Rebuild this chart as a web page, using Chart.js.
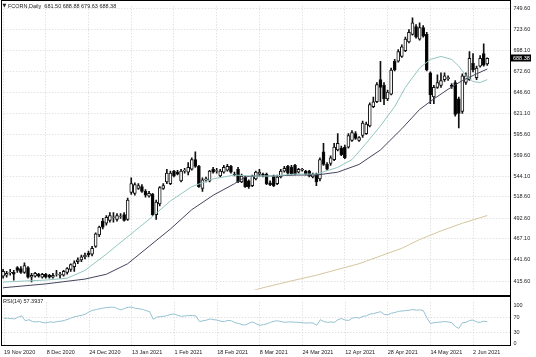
<!DOCTYPE html>
<html><head><meta charset="utf-8">
<script src="https://cdn.jsdelivr.net/npm/chart.js@4.4.1/dist/chart.umd.min.js"></script>
<style>
html,body{margin:0;padding:0;background:#fff;width:536px;height:357px;overflow:hidden;}
#w1{position:absolute;left:0;top:0;width:536px;height:296px;}
#w2{position:absolute;left:0;top:296px;width:536px;height:61px;}
canvas{display:block}
</style></head><body>
<div id="w1"><canvas id="c1" width="536" height="296"></canvas></div>
<div id="w2"><canvas id="c2" width="536" height="61"></canvas></div>
<script>
// ---- data ----
const symbolTitle = 'FCORN,Daily';
const lastQuote = ['681.50', '688.88', '679.63', '688.38'];
const dateLabels = ['19 Nov 2020','8 Dec 2020','24 Dec 2020','13 Jan 2021','1 Feb 2021','18 Feb 2021','8 Mar 2021','24 Mar 2021','12 Apr 2021','28 Apr 2021','14 May 2021','2 Jun 2021'];
const labelStep = 12;
const priceTicks = [749.60,723.60,698.10,672.60,646.60,621.10,595.60,569.60,544.10,518.60,492.60,467.10,441.60,415.60];
const rsiTicks = [100,70,30,0];

const opens = [421.5,422.7,425.6,426.2,432.1,430.9,426.2,432.1,420.3,421.5,423.9,420.3,423.9,
422.7,420.3,423.9,422.7,422.7,426.2,429.8,433.3,439.2,441.6,445.1,449.8,448.6,458.1,472.2,488.8,486.4,489.9,493.5,491.1,494.7,497.0,491.1,524.2,523.0,528.9,531.2,525.3,519.4,521.8,497.0,510.0,528.9,537.1,534.8,550.1,548.9,538.3,550.1,548.9,552.5,564.3,556.0,528.9,539.5,538.3,
552.5,550.1,544.2,548.9,551.3,556.0,546.6,552.5,537.1,543.0,538.3,532.4,540.7,546.6,546.6,546.6,536.0,544.2,534.8,543.0,550.1,556.0,554.8,557.2,548.9,551.3,550.1,550.1,543.0,546.6,540.7,573.7,558.4,
559.6,564.3,576.1,578.4,579.6,579.6,587.9,596.1,587.9,593.8,596.1,605.6,629.2,635.1,662.2,655.2,638.6,644.5,684.7,684.7,690.6,697.7,708.3,717.7,727.1,711.8,726.0,717.7,670.5,641.0,652.8,655.2,662.2,663.4,655.2,658.7,638.6,623.3,658.7,662.2,682.3,664.6,678.8,694.1,681.5];
const highs = [429.8,427.4,429.8,428.6,433.3,433.3,438.0,433.3,425.0,426.2,425.0,425.0,425.0,
423.9,425.0,428.6,426.2,428.6,432.1,436.8,440.4,443.9,447.5,449.8,452.2,458.1,474.6,482.9,492.3,495.8,499.4,499.4,498.2,498.2,499.4,517.1,541.9,536.0,534.8,533.6,527.7,525.3,523.0,514.7,531.2,534.8,552.5,550.1,551.3,551.3,552.5,553.7,560.7,566.6,573.7,557.2,541.9,543.0,551.3,
554.8,553.7,552.5,557.2,558.4,557.2,548.9,554.8,546.6,544.2,539.5,545.4,550.1,552.5,547.8,547.8,538.3,545.4,545.4,552.5,556.0,557.2,557.2,558.4,553.7,553.7,551.3,551.3,547.8,547.8,566.6,584.3,560.7,
569.0,584.3,596.1,580.8,582.0,596.1,599.7,598.5,592.6,611.5,610.3,633.9,641.0,658.7,684.7,658.7,649.3,676.4,687.0,698.9,704.7,714.2,723.6,737.8,729.5,731.9,728.3,720.1,671.7,655.2,668.1,670.5,670.5,667.0,657.5,661.1,641.0,669.3,670.5,696.5,694.1,678.8,691.8,705.9,688.88];
const lows = [419.1,420.3,422.7,416.8,426.2,425.0,425.0,419.1,414.4,420.3,420.3,419.1,419.1,
419.1,419.1,421.5,419.1,421.5,423.9,427.4,427.4,436.8,439.2,442.7,445.1,446.3,456.9,469.9,479.3,484.0,487.6,487.6,488.8,492.3,488.8,489.9,521.8,520.6,527.7,524.2,518.3,518.3,495.8,491.1,507.6,527.7,534.8,533.6,543.0,545.4,537.1,547.8,545.4,551.3,554.8,530.1,525.3,537.1,537.1,
547.8,547.8,543.0,547.8,550.1,547.8,544.2,536.0,536.0,530.1,528.9,531.2,539.5,544.2,543.0,533.6,532.4,531.2,533.6,541.9,548.9,545.4,545.4,545.4,547.8,550.1,545.4,543.0,541.9,532.4,538.3,557.2,551.3,
557.2,563.1,574.9,569.0,565.5,578.4,586.7,589.1,586.7,591.4,595.0,604.4,628.0,633.9,635.1,631.6,636.3,643.4,672.9,683.5,689.4,696.5,707.1,716.5,713.0,710.6,714.2,672.9,632.7,632.7,651.6,652.8,659.9,661.1,651.6,617.4,603.2,620.9,656.3,661.1,671.7,662.2,677.6,678.8,679.63];
const closes = [427.4,425.0,426.2,423.9,428.6,426.2,434.5,420.3,422.7,425.0,421.5,423.9,420.3,
420.3,422.7,424.4,423.9,427.4,430.9,435.7,438.0,441.6,445.1,447.5,447.5,455.7,473.4,481.7,481.7,493.5,495.8,494.1,495.8,495.2,489.9,514.7,534.8,533.6,532.4,525.3,520.6,523.0,497.0,512.4,530.1,532.4,547.8,547.8,544.2,546.6,550.1,551.3,554.8,564.3,556.0,531.2,539.5,540.7,550.1,
548.9,550.7,550.1,554.8,556.0,548.9,545.4,537.1,544.2,531.2,531.2,544.2,548.9,548.9,545.4,534.8,533.6,532.4,543.0,550.1,553.7,547.8,546.6,546.6,552.5,552.5,546.6,544.2,546.6,537.1,564.3,558.4,552.5,
566.6,579.6,584.3,570.2,566.6,593.8,597.3,590.2,591.4,609.1,607.9,631.6,635.1,656.3,652.8,638.6,646.9,674.0,674.0,696.5,702.4,711.8,720.1,731.9,714.2,726.0,715.3,674.0,643.4,652.8,658.7,661.1,667.0,664.6,654.0,619.7,620.9,667.0,667.0,688.2,674.0,676.4,688.2,679.9,688.38];

// moving averages read at bar indices [bar, value]
const maFastPts = [[0,414.4],[6,415.6],[12,416.8],[18,419.1],[23,428.6],[29,448.6],[35,469.9],[41,491.1],[47,513.6],[53,531.2],[59,540.7],[65,545.4],[70,544.2],[76,544.2],[82,546.6],[88,546.6],[94,554.8],[98,564.3],[102,584.3],[106,605.6],[110,629.2],[113,652.8],[117,676.4],[120,687.0],[123,690.6],[126,687.0],[128,678.8],[130,667.0],[132,659.9],[134,658.7],[136,662.2]];
const maSlowPts = [[0,407.4],[12,412.1],[23,418.0],[29,423.9],[35,436.8],[41,458.1],[47,479.3],[53,503.0],[59,520.6],[65,534.8],[68,543.0],[70,544.2],[76,544.2],[82,545.4],[88,545.4],[94,548.9],[100,558.4],[106,576.1],[112,602.1],[117,625.7],[121,638.6],[125,650.4],[129,661.1],[133,669.3],[136,675.2]];
const ma200Pts = [[65,399.1],[70,403.8],[74,408.5],[82,416.8],[88,422.7],[94,429.8],[100,436.8],[106,446.3],[112,455.7],[117,466.4],[123,477.0],[129,486.4],[136,495.8]];

const rsiValues = [66,67,66,65,70,73,60,63,58,57,
58,55,55,57,56,58,59,61,64,68,
71,73,75,78,84,88,90,92,94,95,
96,96,92,89,93,96,96,93,92,90,
87,84,64,70,71,72,74,77,78,74,
72,73,74,74,73,58,60,62,65,63,
62,59,58,61,60,55,53,50,49,54,
57,52,48,50,52,56,59,60,58,56,
57,57,56,56,55,54,55,54,48,63,
58,56,57,56,63,66,62,61,67,69,
67,72,73,78,79,82,84,77,76,80,
82,85,86,87,88,90,88,89,87,68,
53,55,56,57,58,57,55,45,40,55,
56,61,62,57,56,59,57.39];
const rsiTitle = 'RSI(14) 57.3937';

// ---- build ----
const N_SLOTS = 143;
const nBars = closes.length;
const slots = Array.from({length: N_SLOTS}, (_, i) => i);
const pad = arr => { const a = new Array(N_SLOTS).fill(null); arr.forEach((v,i)=>{ a[i]=v; }); return a; };
const fromPts = pts => { const a = new Array(N_SLOTS).fill(null); pts.forEach(([i,v])=>{ a[i]=v; }); return a; };
const wicks = pad(lows.map((l,i)=>[l, highs[i]]));
const bodies = pad(opens.map((o,i)=>[o, closes[i]]));
const bodyColors = pad(opens.map((o,i)=> closes[i] >= o ? '#ffffff' : '#000000'));

const FONT = 'Liberation Sans';
Chart.defaults.font.family = FONT;
Chart.defaults.font.size = 5.5;
Chart.defaults.color = '#1a1a1a';
const GRID = '#d6d6d6';
const DASH = [1,2];
const RIGHT_W = 25.6;
const xGridColor = ctx => (ctx.index % labelStep === 0 && ctx.index < nBars) ? GRID : 'rgba(0,0,0,0)';

const framePlugin = (topPx, botPx) => ({
  id:'frame',
  afterDraw(chart){
    const {ctx, chartArea:a} = chart;
    ctx.save();
    ctx.strokeStyle = '#000'; ctx.lineWidth = 1;
    const l = 1.5, r = Math.round(a.right) + 0.5;
    ctx.strokeRect(l, topPx + 0.5, r - l, botPx - topPx);
    ctx.restore();
  }
});

const topPlugin = {
  id:'top',
  afterDraw(chart){
    const {ctx} = chart;
    const ys = chart.scales.y;
    ctx.save();
    ctx.fillStyle = '#1a1a1a';
    ctx.textBaseline = 'middle';
    ctx.font = '5px "DejaVu Sans"';
    ctx.fillText('\u25BC', 2.5, 6);
    ctx.font = '5.5px ' + FONT;
    ctx.fillText(symbolTitle + '  ' + lastQuote.join(' '), 8, 6);
    const y = ys.getPixelForValue(closes[nBars-1]);
    ctx.fillStyle = '#000';
    ctx.fillRect(511, Math.round(y) - 3.5, 20, 7);
    ctx.fillStyle = '#fff';
    ctx.fillText(closes[nBars-1].toFixed(2), 513, Math.round(y));
    ctx.restore();
  }
};

const rsiPlugin = {
  id:'rsiTitle',
  afterDraw(chart){
    const {ctx} = chart;
    ctx.save();
    ctx.fillStyle = '#1a1a1a';
    ctx.textBaseline = 'middle';
    ctx.font = '5.5px ' + FONT;
    ctx.fillText(rsiTitle, 3, 5);
    ctx.restore();
  }
};

const lineDs = (data, color) => ({type:'line', data, borderColor:color, borderWidth:1, pointRadius:0, spanGaps:true, tension:0, order:-1});

new Chart(document.getElementById('c1'), {
  type:'bar',
  data:{ labels: slots, datasets:[
    lineDs(fromPts(maFastPts), '#93c5c0'),
    lineDs(fromPts(maSlowPts), '#45455e'),
    lineDs(fromPts(ma200Pts), '#d6c6a0'),
    {type:'bar', data: bodies, backgroundColor: bodyColors, borderColor:'#111', borderWidth:1, borderSkipped:false, barThickness:3, grouped:false, order:0},
    {type:'bar', data: wicks, backgroundColor:'#111', borderWidth:0, barThickness:1, grouped:false, order:1}
  ]},
  options:{
    responsive:false, animation:false, events:[],
    layout:{padding:{left:1.3, top:1, right:0, bottom:1}},
    plugins:{legend:{display:false}, tooltip:{enabled:false}},
    scales:{
      x:{type:'category', offset:true,
         grid:{offset:false, color:xGridColor, drawTicks:false, borderDash:DASH},
         border:{display:false, dash:DASH},
         ticks:{display:false, autoSkip:false},
         afterFit: s => { s.height = 0; }},
      y:{position:'right', min:405, max:752,
         grid:{color:GRID, drawTicks:false, borderDash:DASH},
         border:{display:false, dash:DASH},
         ticks:{padding:3, autoSkip:false, callback: v => Number(v).toFixed(2)},
         afterBuildTicks: s => { s.ticks = priceTicks.map(v => ({value:v})); },
         afterFit: s => { s.width = RIGHT_W; }}
    }
  },
  plugins:[framePlugin(0, 295), topPlugin]
});

new Chart(document.getElementById('c2'), {
  type:'line',
  data:{ labels: slots, datasets:[
    {data: pad(rsiValues), borderColor:'#95c2d2', borderWidth:1, pointRadius:0, tension:0}
  ]},
  options:{
    responsive:false, animation:false, events:[],
    layout:{padding:{left:1.3, top:1, right:0, bottom:0}},
    plugins:{legend:{display:false}, tooltip:{enabled:false}},
    scales:{
      x:{type:'category', offset:true,
         grid:{offset:false, color:xGridColor, drawTicks:false, borderDash:DASH},
         border:{display:false, dash:DASH},
         ticks:{autoSkip:false, maxRotation:0, minRotation:0, align:'start', padding:4,
                callback:(v,i) => (i % labelStep === 0 && i/labelStep < dateLabels.length) ? dateLabels[i/labelStep] : ''},
         afterFit: s => { s.height = 12; }},
      y:{position:'right', min:-4, max:109,
         grid:{color: c => (c.tick && (c.tick.value === 70 || c.tick.value === 30)) ? GRID : 'rgba(0,0,0,0)', drawTicks:false, borderDash:DASH},
         border:{display:false, dash:DASH},
         ticks:{padding:3, autoSkip:false, callback: v => String(v)},
         afterBuildTicks: s => { s.ticks = rsiTicks.map(v => ({value:v})); },
         afterFit: s => { s.width = RIGHT_W; }}
    }
  },
  plugins:[framePlugin(0, 49), rsiPlugin]
});
</script></body></html>
